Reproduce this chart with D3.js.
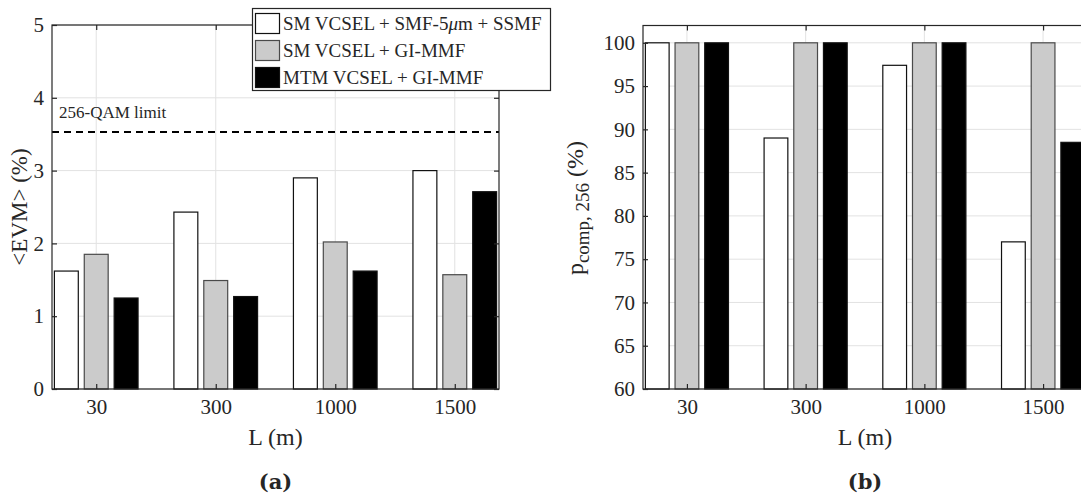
<!DOCTYPE html>
<html><head><meta charset="utf-8">
<script src="https://cdn.jsdelivr.net/npm/d3@7"></script>
<style>
body{margin:0;background:#fff;overflow:hidden}
svg{display:block}
text{font-family:"Liberation Serif","Times New Roman",serif;fill:#262626}
</style>
</head><body>
<svg id="c" width="1081" height="498"></svg>
<script>
// ---------- data ----------
const categories = ["30", "300", "1000", "1500"];
const seriesNames = ["SM VCSEL + SMF-5", "SM VCSEL + GI-MMF", "MTM VCSEL + GI-MMF"];
const seriesFills = ["#ffffff", "#cbcbcb", "#000000"];
const evmSMF = [1.62, 2.43, 2.90, 3.00];
const evmSMGI = [1.85, 1.49, 2.02, 1.57];
const evmMTM = [1.25, 1.27, 1.62, 2.71];
const pSMF = [100, 89.0, 97.4, 77.0];
const pSMGI = [100, 100, 100, 100];
const pMTM = [100, 100, 100, 88.5];
const evmTicks = [0, 1, 2, 3, 4, 5];
const pTicks = [60, 65, 70, 75, 80, 85, 90, 95, 100];
const qamLimit = 3.53;

const svg = d3.select("#c");
const AX = "#262626", GRID = "#e2e2e2";
const SERIF = "'Liberation Serif', 'Times New Roman', serif";

function panel(o) {
  const g = svg.append("g");
  const x = d3.scaleLinear().domain([0.63, 4.37]).range([o.x0, o.x1]);
  const y = d3.scaleLinear().domain(o.yDomain).range([o.yBot, o.yTop]);
  const catIdx = categories.map((c, i) => i + 1);
  // grid
  g.selectAll(".gx").data(catIdx).join("line")
    .attr("x1", d => x(d)).attr("x2", d => x(d)).attr("y1", o.yTop).attr("y2", o.yBot)
    .attr("stroke", GRID).attr("stroke-width", 1);
  g.selectAll(".gy").data(o.yTicks).join("line")
    .attr("y1", d => y(d)).attr("y2", d => y(d)).attr("x1", o.x0).attr("x2", o.x1)
    .attr("stroke", GRID).attr("stroke-width", 1);
  // bars
  o.series.forEach((vals, s) => {
    g.append("g").selectAll("rect").data(vals).join("rect")
      .attr("x", (v, i) => x(i + 1 + (s - 1) * 0.25 - 0.1))
      .attr("width", (v, i) => x(i + 1 + (s - 1) * 0.25 + 0.1) - x(i + 1 + (s - 1) * 0.25 - 0.1))
      .attr("y", v => y(v))
      .attr("height", v => y(o.yDomain[0]) - y(v))
      .attr("fill", seriesFills[s])
      .attr("stroke", s === 1 ? "#4a4a4a" : "#111")
      .attr("stroke-width", 1.2);
  });
  if (o.extra) o.extra(g, x, y);
  // box
  g.append("rect").attr("x", o.x0).attr("y", o.yTop).attr("width", o.x1 - o.x0).attr("height", o.yBot - o.yTop)
    .attr("fill", "none").attr("stroke", AX).attr("stroke-width", 1.2);
  // axes
  const ax = g.append("g").attr("transform", `translate(0,${o.yBot})`)
    .call(d3.axisBottom(x).tickValues(catIdx).tickFormat((d, i) => categories[i]).tickSizeInner(-5).tickSizeOuter(0).tickPadding(10));
  const axT = g.append("g").attr("transform", `translate(0,${o.yTop})`)
    .call(d3.axisTop(x).tickValues(catIdx).tickFormat("").tickSizeInner(-5).tickSizeOuter(0));
  const ay = g.append("g").attr("transform", `translate(${o.x0},0)`)
    .call(d3.axisLeft(y).tickValues(o.yTicks).tickFormat(d3.format("d")).tickSizeInner(-5).tickSizeOuter(0).tickPadding(8));
  const ayR = g.append("g").attr("transform", `translate(${o.x1},0)`)
    .call(d3.axisRight(y).tickValues(o.yTicks).tickFormat("").tickSizeInner(-5).tickSizeOuter(0));
  [ax, axT, ay, ayR].forEach(a => {
    a.attr("font-family", null).attr("font-size", null);
    a.select(".domain").remove();
    a.selectAll(".tick line").attr("stroke", AX).attr("stroke-width", 1.2);
    a.selectAll("text").attr("font-size", 21).style("font-family", SERIF).attr("fill", AX);
  });
  // x label
  g.append("text").attr("x", (o.x0 + o.x1) / 2).attr("y", 445)
    .attr("text-anchor", "middle").attr("font-size", 24).text("L (m)");
  g.append("text").attr("x", (o.x0 + o.x1) / 2).attr("y", 489)
    .attr("text-anchor", "middle").attr("font-weight", "bold")
    .style("font-family", "'DejaVu Serif', serif").attr("font-size", 21).text(o.tag);
  return {g, x, y};
}

// Panel (a)
const A = panel({
  x0: 52, x1: 499, yTop: 25, yBot: 389, yDomain: [0, 5], yTicks: evmTicks,
  series: [evmSMF, evmSMGI, evmMTM], tag: "(a)",
  extra: (g, x, y) => {
    g.append("line").attr("x1", x(0.63)).attr("x2", x(4.37)).attr("y1", y(qamLimit)).attr("y2", y(qamLimit))
      .attr("stroke", "#000").attr("stroke-width", 2).attr("stroke-dasharray", "7,5");
    g.append("text").attr("x", x(0.63) + 7).attr("y", y(qamLimit) - 14).attr("font-size", 17)
      .attr("fill", "#111").text("256-QAM limit");
  }
});
A.g.append("text").attr("transform", "translate(19,207) rotate(-90)").attr("text-anchor", "middle")
  .attr("dominant-baseline", "central").attr("font-size", 23).text("<EVM> (%)");

// Panel (b)
const B = panel({
  x0: 643, x1: 1087, yTop: 25.5, yBot: 389, yDomain: [60, 102], yTicks: pTicks,
  series: [pSMF, pSMGI, pMTM], tag: "(b)"
});
const yl = B.g.append("text").attr("transform", "translate(583,208) rotate(-90)").attr("text-anchor", "middle")
  .attr("font-size", 24);
yl.append("tspan").text("p");
yl.append("tspan").attr("font-size", 19).attr("dy", 6).text("comp, 256");
yl.append("tspan").attr("dy", -6).text(" (%)");

// Legend
const L = svg.append("g");
L.append("rect").attr("x", 252.5).attr("y", 8.5).attr("width", 298).attr("height", 82)
  .attr("fill", "#fff").attr("stroke", AX).attr("stroke-width", 1.2);
seriesNames.forEach((n, i) => {
  const yy = 13 + i * 27;
  L.append("rect").attr("x", 255.5).attr("y", yy + 0.5).attr("width", 24).attr("height", 20)
    .attr("fill", seriesFills[i]).attr("stroke", i === 1 ? "#4a4a4a" : "#111").attr("stroke-width", 1.2);
  const t = L.append("text").attr("x", 283).attr("y", yy + 17).attr("font-size", 19).attr("fill", "#111");
  t.append("tspan").text(n);
  if (i === 0) {
    t.append("tspan").attr("font-style", "italic").text("μ");
    t.append("tspan").text("m + SSMF");
  }
});
</script>
</body></html>
